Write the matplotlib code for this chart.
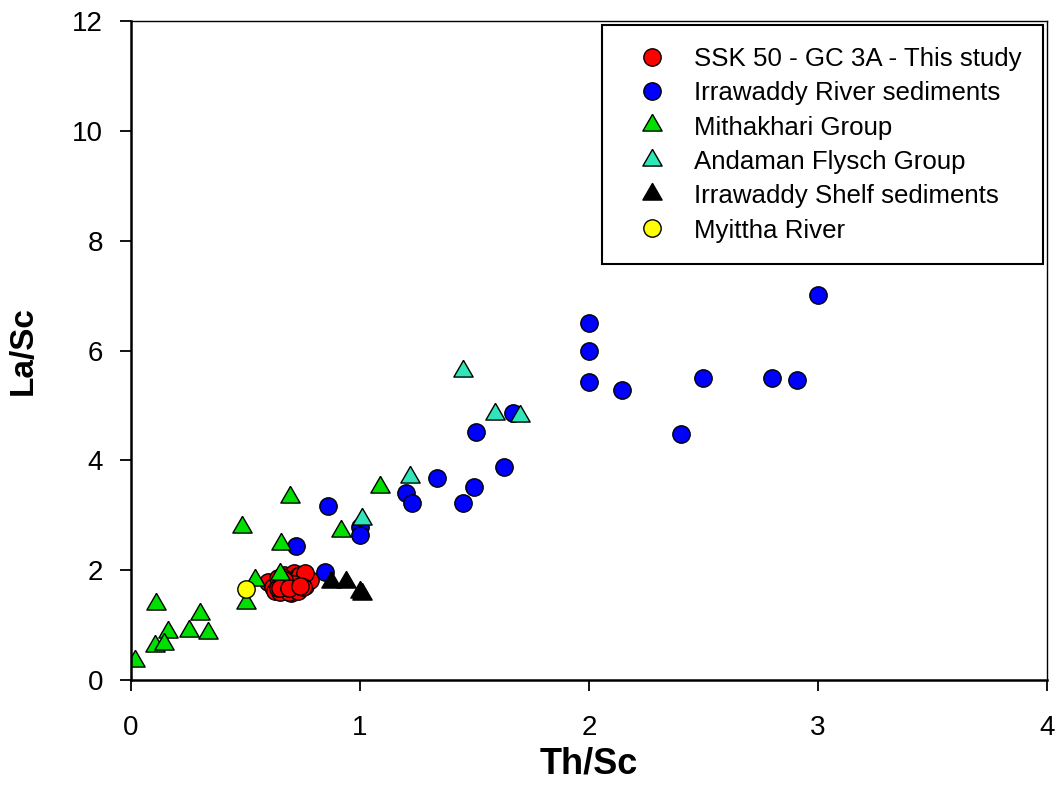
import matplotlib
matplotlib.use("Agg")
from matplotlib import pyplot as plt

plt.rcParams['font.family'] = ['Liberation Sans', 'DejaVu Sans']

# SSK 50 - GC 3A (this study)
ssk_th = [0.60, 0.62, 0.63, 0.64, 0.65, 0.66, 0.67, 0.68, 0.69, 0.70,
          0.71, 0.72, 0.73, 0.74, 0.75, 0.76, 0.77, 0.78, 0.64, 0.66,
          0.68, 0.70, 0.72, 0.74, 0.76, 0.69, 0.71, 0.73, 0.75, 0.67,
          0.65, 0.69, 0.74]
ssk_la = [1.78, 1.70, 1.62, 1.85, 1.60, 1.75, 1.92, 1.65, 1.88, 1.58,
          1.95, 1.70, 1.90, 1.78, 1.85, 1.72, 1.80, 1.83, 1.68, 1.88,
          1.78, 1.66, 1.82, 1.92, 1.94, 1.60, 1.74, 1.62, 1.70, 1.82,
          1.67, 1.68, 1.72]

# Irrawaddy River sediments
irr_th = [3.00, 2.00, 2.00, 2.00, 2.145, 2.50, 2.80, 2.91, 2.40, 1.67,
          1.505, 1.63, 1.50, 1.45, 1.336, 1.20, 1.226, 0.859, 1.00, 1.00,
          0.719, 0.846]
irr_la = [7.01, 6.51, 6.00, 5.43, 5.29, 5.50, 5.50, 5.46, 4.48, 4.86,
          4.51, 3.88, 3.51, 3.23, 3.67, 3.41, 3.23, 3.16, 2.79, 2.64,
          2.44, 1.96]

# Mithakhari Group
mit_th = [1.086, 0.694, 0.483, 0.917, 0.654, 0.651, 0.543, 0.50, 0.108,
          0.303, 0.160, 0.252, 0.336, 0.105, 0.146, 0.019]
mit_la = [3.52, 3.34, 2.78, 2.72, 2.48, 1.93, 1.82, 1.41, 1.38,
          1.21, 0.88, 0.90, 0.86, 0.62, 0.66, 0.35]

# Andaman Flysch Group
and_th = [1.45, 1.59, 1.70, 1.22, 1.01]
and_la = [5.63, 4.84, 4.81, 3.69, 2.94]

# Irrawaddy Shelf sediments
shelf_th = [0.873, 0.937, 1.00, 1.01]
shelf_la = [1.79, 1.79, 1.60, 1.57]

# Myittha River
myi_th = [0.50]
myi_la = [1.65]

# equilateral triangle marker
tri = [(0, 0.577), (-0.5, -0.289), (0.5, -0.289), (0, 0.577)]

fig = plt.figure(figsize=(10.6, 8.08), dpi=100)
ax = fig.add_axes([0.1236, 0.1584, 0.8641, 0.8156])

ax.plot(ssk_th, ssk_la, ls='none', marker='o', ms=12.5, mfc='#ff0000',
        mec='black', mew=1.0, label='SSK 50 - GC 3A - This study')
ax.plot(irr_th, irr_la, ls='none', marker='o', ms=12.5, mfc='#0000ff',
        mec='black', mew=1.0, label='Irrawaddy River sediments')
ax.plot(mit_th, mit_la, ls='none', marker=tri, ms=16, mfc='#00e000',
        mec='black', mew=1.0, label='Mithakhari Group')
ax.plot(and_th, and_la, ls='none', marker=tri, ms=16, mfc='#30e6b8',
        mec='black', mew=1.0, label='Andaman Flysch Group')
ax.plot(shelf_th, shelf_la, ls='none', marker=tri, ms=16, mfc='black',
        mec='black', mew=1.0, label='Irrawaddy Shelf sediments')
ax.plot(myi_th, myi_la, ls='none', marker='o', ms=12.5, mfc='#ffff00',
        mec='black', mew=1.0, label='Myittha River')

ax.set_xlim(0, 4)
ax.set_ylim(0, 12)
ax.set_xticks([0, 1, 2, 3, 4])
ax.set_yticks([0, 2, 4, 6, 8, 10, 12])

ax.spines['left'].set_linewidth(1.8)
ax.spines['bottom'].set_linewidth(1.8)
ax.spines['top'].set_linewidth(1.0)
ax.spines['right'].set_linewidth(1.0)
ax.tick_params(axis='both', direction='out', length=8, width=1.3, labelsize=20)
ax.tick_params(axis='x', pad=17)
ax.tick_params(axis='y', pad=12)

ax.set_xlabel('Th/Sc', fontsize=26, fontweight='bold', labelpad=4)
ax.set_ylabel('La/Sc', fontsize=24, fontweight='bold', labelpad=24)

leg = ax.legend(loc='upper right', bbox_to_anchor=(1, 1), borderaxespad=0.15,
                fontsize=18.6, frameon=True, fancybox=False, edgecolor='black',
                framealpha=1, borderpad=0.85, labelspacing=0.40,
                handlelength=2.2, handletextpad=0.5, numpoints=1)
leg.get_frame().set_linewidth(1.5)

plt.savefig('out.png', dpi=100)
plt.close()
